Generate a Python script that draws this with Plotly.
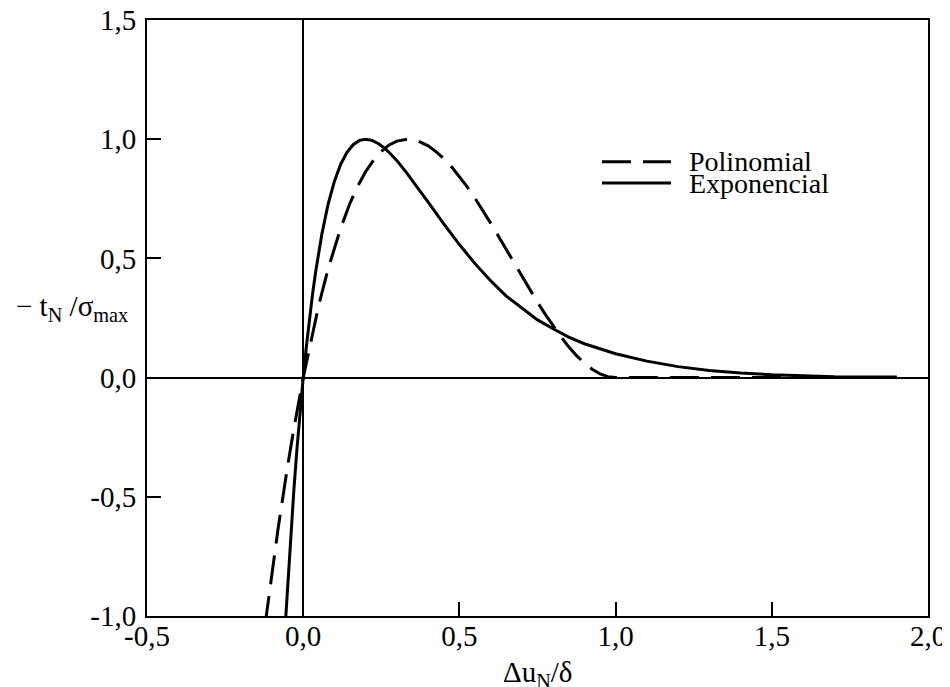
import plotly.graph_objects as go

# Values
exp_x = [-0.057, -0.05, -0.04, -0.03, -0.02, -0.01, 0.0, 0.01, 0.02, 0.03, 0.04, 0.05,
         0.06, 0.08, 0.10, 0.12, 0.14, 0.16, 0.18, 0.20, 0.22, 0.24, 0.26, 0.28,
         0.30, 0.33, 0.36, 0.40, 0.45, 0.50, 0.55, 0.60, 0.65, 0.70, 0.75, 0.80,
         0.85, 0.90, 0.95, 1.00, 1.10, 1.20, 1.30, 1.40, 1.50, 1.60, 1.70, 1.80, 1.90]
exp_y = [-1.03, -0.873, -0.664, -0.474, -0.300, -0.143, 0.0, 0.129, 0.246, 0.351, 0.445, 0.529,
         0.604, 0.729, 0.824, 0.895, 0.945, 0.977, 0.995, 1.0, 0.995, 0.982, 0.963, 0.938,
         0.910, 0.861, 0.809, 0.736, 0.645, 0.558, 0.478, 0.406, 0.342, 0.290, 0.242, 0.205,
         0.170, 0.142, 0.120, 0.100, 0.069, 0.046, 0.030, 0.019, 0.012, 0.007, 0.004, 0.003, 0.002]

pol_x = [-0.122, -0.11, -0.10, -0.08, -0.05, -0.03, 0.0, 0.03, 0.05, 0.08, 0.10, 0.12,
         0.15, 0.175, 0.20, 0.225, 0.25, 0.275, 0.30, 0.333, 0.37, 0.40, 0.425, 0.45,
         0.475, 0.50, 0.525, 0.55, 0.575, 0.60, 0.625, 0.65, 0.675, 0.70, 0.725, 0.75,
         0.775, 0.80, 0.825, 0.85, 0.875, 0.90, 0.925, 0.95, 0.975, 1.00, 1.90]
pol_y = [-1.037, -0.915, -0.817, -0.630, -0.372, -0.215, 0.0, 0.191, 0.305, 0.457, 0.547, 0.627,
         0.732, 0.804, 0.864, 0.912, 0.949, 0.976, 0.992, 1.0, 0.991, 0.972, 0.948, 0.919,
         0.884, 0.844, 0.800, 0.752, 0.701, 0.648, 0.593, 0.537, 0.481, 0.425, 0.370, 0.316,
         0.265, 0.216, 0.171, 0.129, 0.092, 0.061, 0.035, 0.016, 0.004, 0.0, 0.0]

tick_vals_x = [-0.5, 0.0, 0.5, 1.0, 1.5, 2.0]
tick_text_x = ["-0,5", "0,0", "0,5", "1,0", "1,5", "2,0"]
tick_vals_y = [-1.0, -0.5, 0.0, 0.5, 1.0, 1.5]
tick_text_y = ["-1,0", "-0,5", "0,0", "0,5", "1,0", "1,5"]

FONT = "Liberation Serif"
DASH = "29px,12px"

fig = go.Figure()
fig.add_trace(go.Scatter(x=pol_x, y=pol_y, mode="lines", name="Polinomial",
                         line=dict(color="black", width=3, dash=DASH)))
fig.add_trace(go.Scatter(x=exp_x, y=exp_y, mode="lines", name="Exponencial",
                         line=dict(color="black", width=3)))

axis_common = dict(
    showline=True, linecolor="black", linewidth=2, mirror=True,
    ticks="inside", ticklen=14, tickwidth=1.5, tickcolor="black",
    showgrid=False, zeroline=True, zerolinecolor="black", zerolinewidth=1.5,
    tickfont=dict(family=FONT, size=29, color="black"),
    automargin=False, ticklabeloverflow="allow",
)
fig.update_xaxes(range=[-0.5, 2.0], tickvals=tick_vals_x, ticktext=tick_text_x,
                 ticklabelstandoff=-7, **axis_common)
fig.update_yaxes(range=[-1.0, 1.5], tickvals=tick_vals_y, ticktext=tick_text_y,
                 ticklabelstandoff=3, **axis_common)

# legend drawn by hand so the line samples are as long as in the original
legend_items = [("Polinomial", DASH, 0.7623), ("Exponencial", "solid", 0.7265)]
for label, dash, ypos in legend_items:
    fig.add_shape(type="line", xref="paper", yref="paper", x0=0.5826, x1=0.671, y0=ypos, y1=ypos,
                  line=dict(color="black", width=3, dash=dash))
    fig.add_annotation(text=label, xref="paper", yref="paper", x=0.6914, y=ypos,
                       xanchor="left", yanchor="middle", showarrow=False,
                       font=dict(family=FONT, size=28, color="black"))

# axis titles
fig.add_annotation(text="Δu<sub>N</sub>/δ", xref="paper", yref="paper", x=0.5, y=-0.098,
                   xanchor="center", yanchor="middle", showarrow=False,
                   font=dict(family=FONT, size=29, color="black"))
fig.add_annotation(text="− t<sub>N</sub> /σ<sub>max</sub>", xref="paper", yref="y", x=-0.022, y=0.29,
                   xanchor="right", yanchor="middle", showarrow=False,
                   font=dict(family=FONT, size=29, color="black"))

# page body has an 8px margin, so the figure is made 8px smaller to fit the window
fig.update_layout(
    width=942, height=679,
    margin=dict(l=139, r=22, t=12, b=71),
    paper_bgcolor="white", plot_bgcolor="white",
    showlegend=False,
    font=dict(family=FONT, color="black"),
)

fig.write_html("out.html")
